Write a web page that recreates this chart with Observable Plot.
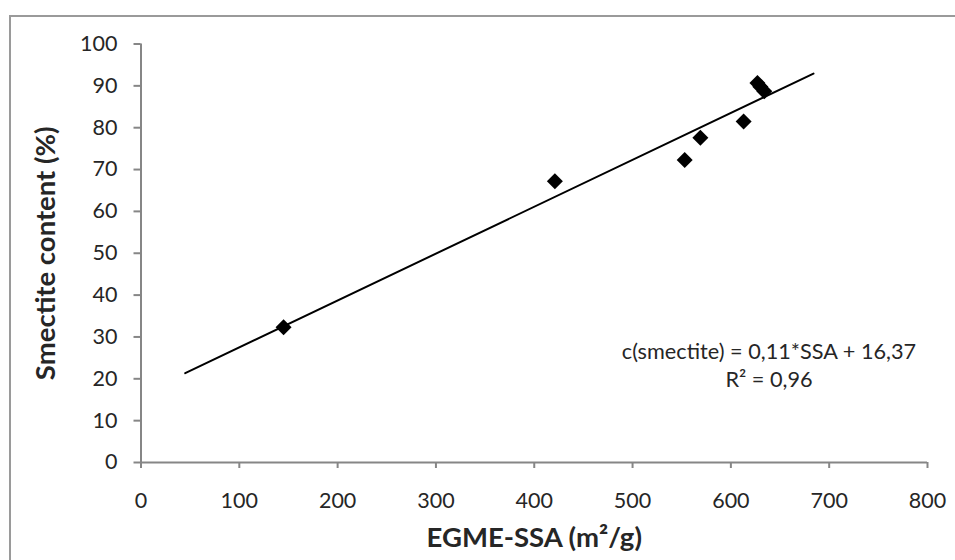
<!DOCTYPE html>
<html>
<head>
<meta charset="utf-8">
<script src="https://cdn.jsdelivr.net/npm/d3@7"></script>
<script src="https://cdn.jsdelivr.net/npm/@observablehq/plot@0.6"></script>
<style>
  html, body { margin: 0; padding: 0; background: #fff; }
  body { width: 955px; height: 560px; position: relative; overflow: hidden; }
  #frame { position: absolute; left: 9px; top: 15px; width: 1000px; height: 1000px; border: 2px solid #9a9a9a; box-sizing: border-box; }
  #chart { position: absolute; left: 0; top: 0; }
</style>
</head>
<body>
<div id="frame"></div>
<div id="chart"></div>
<script>
// Data
const ssa = [145, 421, 553, 569, 613, 627, 630, 634];          // EGME-SSA (m²/g)
const smectite = [32.3, 67.2, 72.3, 77.6, 81.5, 90.7, 89.8, 88.7]; // Smectite content (%)
const xTicks = [0, 100, 200, 300, 400, 500, 600, 700, 800];
const yTicks = [0, 10, 20, 30, 40, 50, 60, 70, 80, 90, 100];
const trendRange = [45, 684]; // trendline extent (backward/forward forecast)
const equationLines = ["c(smectite) = 0,11*SSA + 16,37", "R² = 0,96"];
const xTitle = "EGME-SSA (m²/g)";
const yTitle = "Smectite content (%)";

const points = ssa.map((x, i) => ({x, y: smectite[i]}));

// least-squares fit (as the trendline)
const mx = d3.mean(ssa), my = d3.mean(smectite);
const slope = d3.sum(ssa, (x, i) => (x - mx) * (smectite[i] - my)) / d3.sum(ssa, x => (x - mx) ** 2);
const intercept = my - slope * mx;
const trend = trendRange.map(x => ({x, y: intercept + slope * x}));

const axisColor = "#868686";
const textColor = "#262626";

const chart = Plot.plot({
  width: 955,
  height: 560,
  marginLeft: 140.5,
  marginRight: 28,
  marginTop: 43.5,
  marginBottom: 98,
  x: {domain: [0, 800]},
  y: {domain: [0, 100]},
  style: {fontFamily: "Lato, sans-serif", fontSize: "21.5px", color: textColor, background: "transparent", overflow: "visible"},
  marks: [
    Plot.ruleY([0], {stroke: axisColor, strokeWidth: 2}),
    Plot.ruleX([0], {stroke: axisColor, strokeWidth: 2}),
    Plot.axisX({ticks: xTicks, tickSize: 6, tickPadding: 24.5, stroke: axisColor, strokeWidth: 2, fill: textColor, label: null, tickFormat: d => String(d)}),
    Plot.axisY({ticks: yTicks, tickSize: 7, tickPadding: 16.5, stroke: axisColor, strokeWidth: 2, fill: textColor, label: null, tickFormat: d => String(d)}),
    Plot.line(trend, {x: "x", y: "y", stroke: "black", strokeWidth: 2}),
    Plot.dot(points, {x: "x", y: "y", symbol: "diamond2", r: 7.2, fill: "black", stroke: "none"}),
    Plot.text([equationLines.join("\n")], {frameAnchor: "top-left", dx: 628, dy: 295, text: d => d, textAnchor: "middle", lineAnchor: "top", lineHeight: 1.3, fontSize: 21.7, fill: textColor}),
    Plot.text([xTitle], {frameAnchor: "bottom", dy: 76, text: d => d, textAnchor: "middle", lineAnchor: "middle", fontWeight: "bold", fontSize: 27.5, fill: textColor}),
    Plot.text([yTitle], {frameAnchor: "left", dx: -94.5, text: d => d, rotate: -90, textAnchor: "middle", lineAnchor: "middle", fontWeight: "bold", fontSize: 27.5, fill: textColor})
  ]
});
document.getElementById("chart").appendChild(chart);
</script>
</body>
</html>
